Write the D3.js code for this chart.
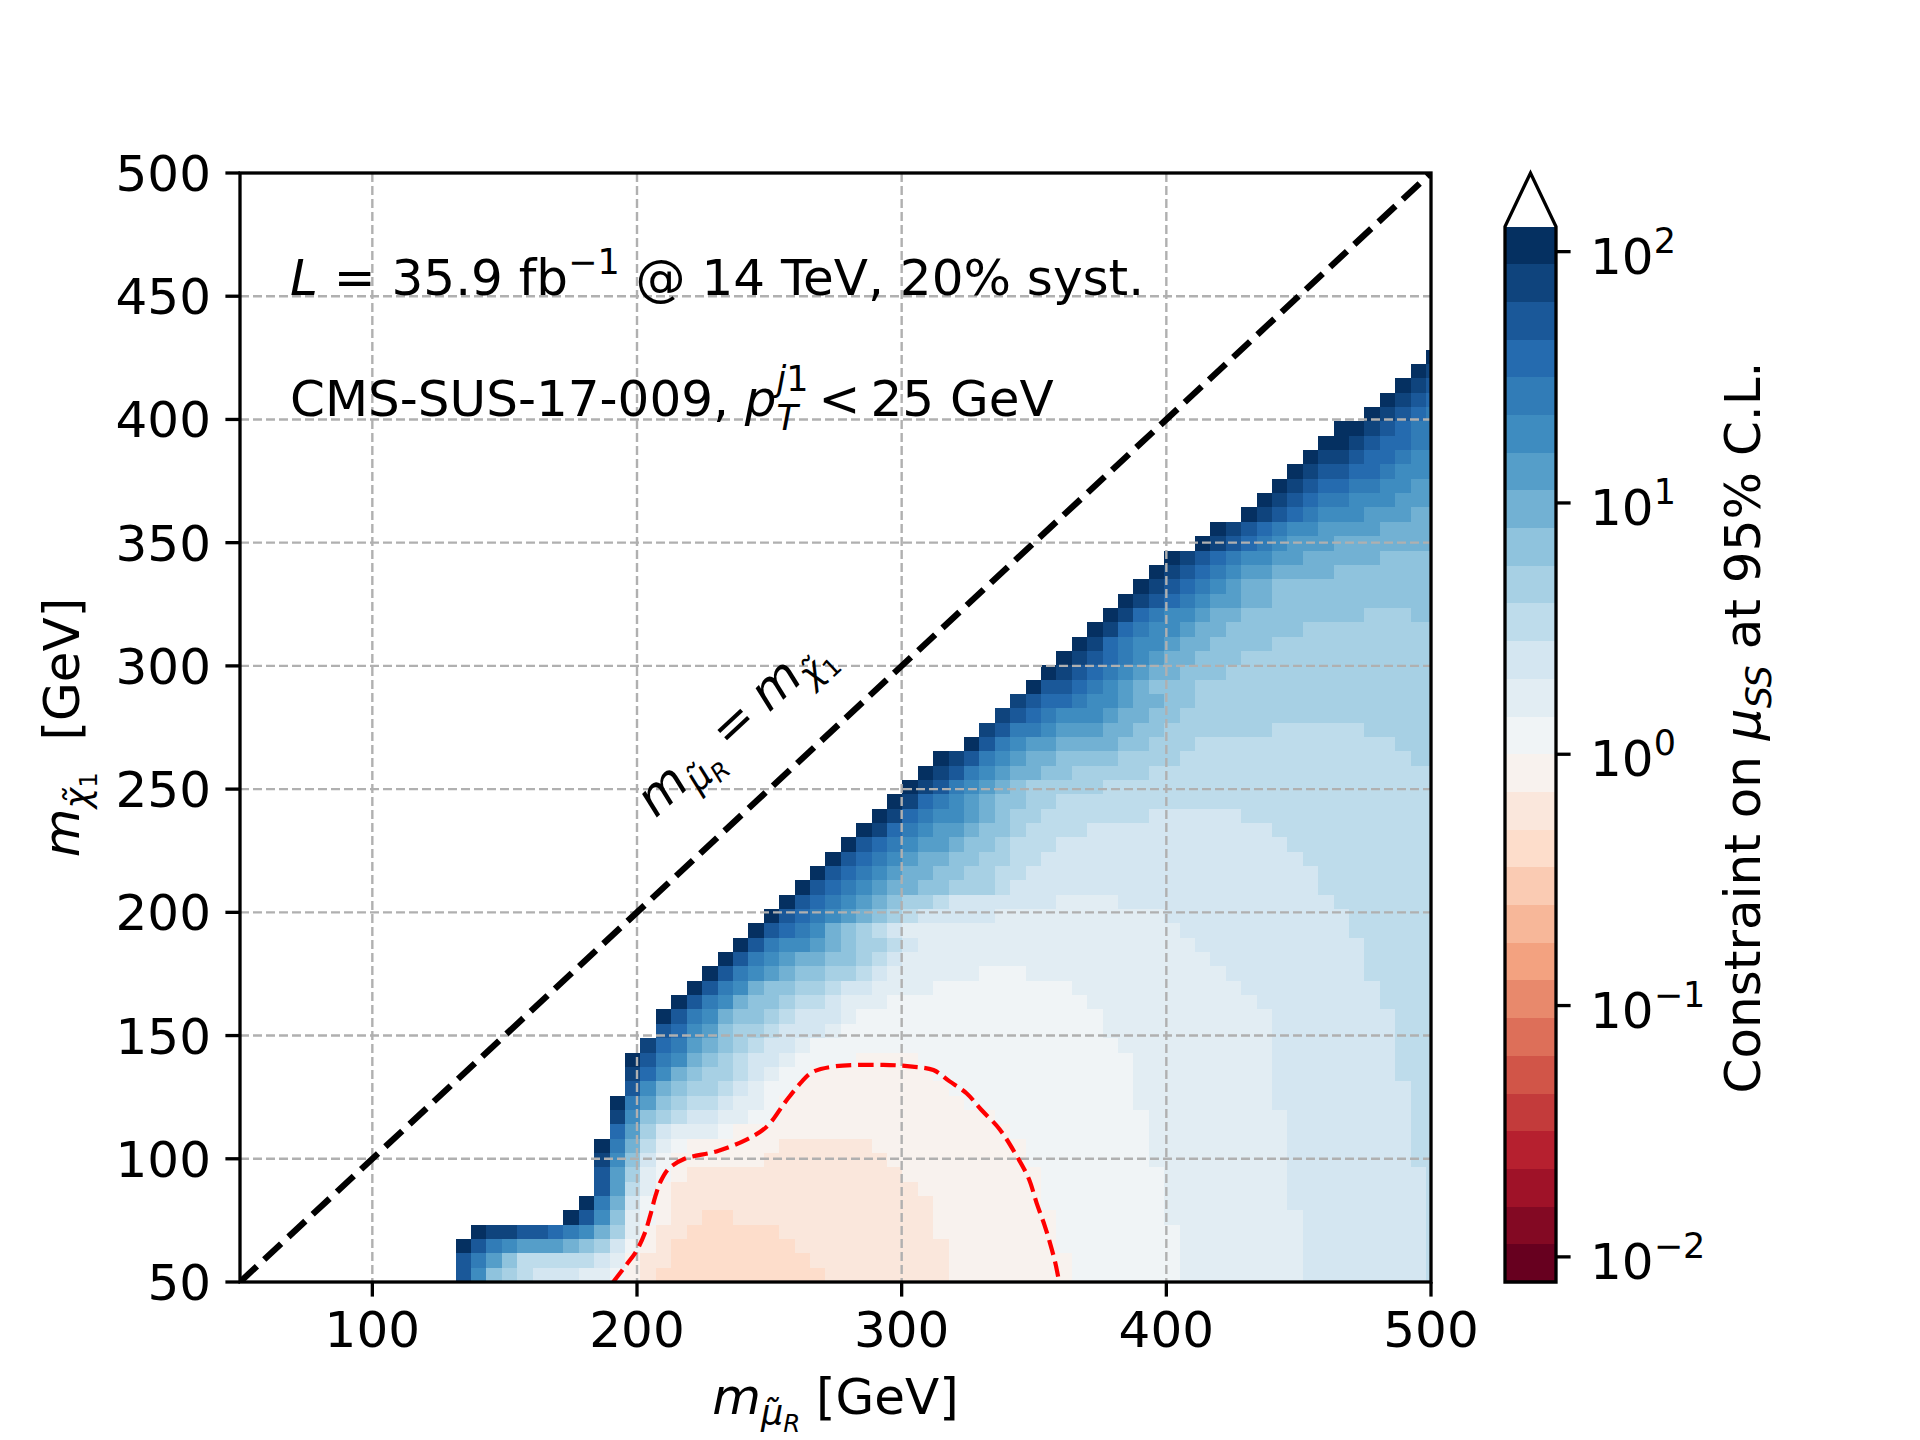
<!DOCTYPE html>
<html>
<head>
<meta charset="utf-8">
<script src="https://cdn.jsdelivr.net/npm/d3@7"></script>
<style>
  body { margin: 0; background: #fff; }
  text { font-family: "DejaVu Sans", sans-serif; fill: #000; }
</style>
</head>
<body>
<svg id="chart" width="1920" height="1440"></svg>
<script>
// Level codes: index 0..27 on the colour scale, one char per cell.
const levelCodes = "0123456789abcdefghijklmnopqr";
// Cell size in GeV (mass grid starts at 50 GeV in both directions)
const cellStep = 5.82;

// [row, first column, runs]  run = level char + optional repeat count
// cells outside the runs are above the colour range (drawn white)
const gridRows = [
  [0, 14, "p m j i h g3 f2 e d c b11 c8 d8 e7 f8 g8 h"],
  [1, 14, "p n l j h5 g f d c2 b9 c9 d8 e7 f8 g8 h"],
  [2, 14, "r p n m l3 k j i g e d c b8 c10 d7 e8 f8 g8 h"],
  [3, 15, "r q2 p2 o n m k i f d c2 b6 c10 d8 e8 f8 g8 h"],
  [4, 21, "r p m j f e d c2 b2 c13 d8 e7 f9 g8 h"],
  [5, 22, "r n k g e d c17 d7 e8 f8 g9 h"],
  [6, 23, "p l h f d c16 d8 e8 f8 g9 h"],
  [7, 23, "p l i f e d c14 d9 e8 f8 g9 h"],
  [8, 23, "q m j g e d6 c8 d9 e8 f9 g8 h2"],
  [9, 23, "r n k h f e d6 c6 d10 e8 f9 g8 h2"],
  [10, 24, "o l i g f3 e d18 e9 f9 g8 h2"],
  [11, 24, "q m j i h g2 f2 e2 d14 e10 f9 g8 h2"],
  [12, 24, "r n l j i h2 g f2 e d12 e11 f9 g9 h2"],
  [13, 25, "p m k j i2 h g f e2 d10 e12 f9 g9 h2"],
  [14, 25, "q o m k j i2 h g f e2 d8 e13 f9 g8 h3"],
  [15, 25, "r p n m k j i h g2 f e4 d4 e14 f9 g8 h3"],
  [16, 26, "q o n l k j i h g2 f e20 f10 g8 h3"],
  [17, 27, "p o m l j i2 h g3 f e17 f11 g8 h3"],
  [18, 27, "r p n m k j2 i h g3 f e16 f11 g8 h3"],
  [19, 28, "r p n m k j2 i h2 g f3 e13 f11 g8 h4"],
  [20, 29, "r p n m k j2 i2 h g2 f4 e9 f11 g9 h4"],
  [21, 30, "r p n m l k j2 i2 h g f6 e3 f13 g9 h5"],
  [22, 31, "r p n m l k2 j2 i h g f20 g10 h5"],
  [23, 32, "r p n m2 l k j i2 h g f18 g11 h5"],
  [24, 33, "r p o n m k j i h g f18 g11 h6"],
  [25, 34, "r p o n m l k j i h g5 f11 g12 h6"],
  [26, 35, "r p o n m l k j i2 h g7 f4 g14 h7"],
  [27, 36, "r p o n m l k2 j2 i3 h g20 h8"],
  [28, 37, "r p o n m l k2 j2 i2 h2 g19 h8"],
  [29, 38, "r p o n m l k2 j2 i2 h2 g17 h9"],
  [30, 39, "r p o n m l2 k j2 i h3 g15 h10"],
  [31, 40, "r q o n m l2 k j2 i h4 g12 h11"],
  [32, 41, "r q o n m2 l k j i2 h7 g6 h13"],
  [33, 42, "r q o n m l k j2 i2 h25"],
  [34, 43, "r q p n m l k j i5 h22"],
  [35, 44, "r q p n m l k2 j2 i5 h19"],
  [36, 45, "r q p n m l k2 j4 i4 h15 i2"],
  [37, 47, "r p n m l2 k4 j2 i3 h13 i3"],
  [38, 48, "q p n2 m l3 k2 j2 i7 h6 i5"],
  [39, 49, "q p o n m3 l k2 j2 i17"],
  [40, 50, "q p o2 n m2 l k2 j2 i16"],
  [41, 51, "r p2 o n m l k j3 i16"],
  [42, 52, "r q p o n m l k2 j3 i14"],
  [43, 53, "r q p o n m l k2 j3 i13"],
  [44, 54, "r q o n m2 l k2 j4 i11"],
  [45, 55, "r q o n m2 l k2 j5 i9"],
  [46, 56, "r q o n m2 l k2 j8 i3 j2"],
  [47, 57, "r q p o n m l2 k2 j11"],
  [48, 58, "r q p o n m l k2 j11"],
  [49, 59, "r q p o n m l2 k4 j7"],
  [50, 60, "r q p o n m2 l2 k5 j4"],
  [51, 62, "r q p o n m l3 k7"],
  [52, 63, "r q p o n m2 l4 k4"],
  [53, 65, "r q p o n m3 l3 k2"],
  [54, 66, "r q p o n2 m3 l3"],
  [55, 67, "r q p o2 n2 m2 l2"],
  [56, 68, "r q p2 o2 n m3"],
  [57, 69, "r q2 p o2 n m2"],
  [58, 70, "r2 q p o2 n2"],
  [59, 71, "r2 q p o n2"],
  [60, 73, "r q p o n"],
  [61, 74, "r q p o"],
  [62, 75, "r q p"],
  [63, 76, "r q"],
  [64, 77, "r"]
];

// mu_SS = 1 contour (GeV, GeV)
const contourPts = [[191,50],[196,57],[200,63],[203,70],[205,77],[207,85],[209,91],[212,96],
  [218,100],[230,103],[241,107.6],[249,113],[256,123],[262,131],[266,135],[274,137.4],
  [293,138.1],[304,137.4],[312,136],[318,131.5],[324.5,126.6],[330,120],[337,112],
  [343,102],[348,92],[351,82],[354,73],[356,66],[358,58],[359.5,50]];

// colour bar bin edges, log10(mu)
const cbBounds = [-2.1,-1.95,-1.8,-1.65,-1.5,-1.35,-1.2,-1.05,-0.9,-0.75,-0.6,-0.45,-0.3,-0.15,
  0,0.15,0.3,0.45,0.6,0.75,0.9,1.05,1.2,1.35,1.5,1.65,1.8,1.95,2.1];
const cbTicks = [-2, -1, 0, 1, 2];
const xTicks = [100, 200, 300, 400, 500];
const yTicks = [50, 100, 150, 200, 250, 300, 350, 400, 450, 500];
const xGrid = [100, 200, 300, 400];
const yGrid = [100, 150, 200, 250, 300, 350, 400, 450];

const rdbuStops = ["#67001f","#b2182b","#d6604d","#f4a582","#fddbc7","#f7f7f7",
  "#d1e5f0","#92c5de","#4393c3","#2166ac","#053061"];
const rdbu = d3.scaleLinear().domain(d3.range(11).map(i => i / 10)).range(rdbuStops)
  .interpolate(d3.interpolateRgb);
const levelColor = lv => rdbu(lv / 27);

const svg = d3.select("#chart");
svg.append("rect").attr("width", 1920).attr("height", 1440).attr("fill", "#fff");

const plot = {left: 240, right: 1431, top: 173, bottom: 1282};
const xS = d3.scaleLinear().domain([50, 500]).range([plot.left, plot.right]);
const yS = d3.scaleLinear().domain([50, 500]).range([plot.bottom, plot.top]);
const FS = 50;

svg.append("clipPath").attr("id", "clip").append("rect")
  .attr("x", plot.left).attr("y", plot.top)
  .attr("width", plot.right - plot.left).attr("height", plot.bottom - plot.top);

// --- heat map cells
const cells = [];
gridRows.forEach(([row, start, runs]) => {
  let col = start;
  runs.split(" ").forEach(tok => {
    const lv = levelCodes.indexOf(tok[0]);
    const n = tok.length > 1 ? +tok.slice(1) : 1;
    for (let k = 0; k < n; k++) cells.push({row, col: col++, lv});
  });
});

const gCells = svg.append("g").attr("clip-path", "url(#clip)");
gCells.selectAll("rect").data(cells).enter().append("rect")
  .attr("x", d => Math.round(xS(50 + d.col * cellStep)))
  .attr("width", d => Math.round(xS(Math.min(500, 50 + (d.col + 1) * cellStep))) - Math.round(xS(50 + d.col * cellStep)))
  .attr("y", d => Math.round(yS(Math.min(500, 50 + (d.row + 1) * cellStep))))
  .attr("height", d => Math.round(yS(50 + d.row * cellStep)) - Math.round(yS(Math.min(500, 50 + (d.row + 1) * cellStep))))
  .attr("fill", d => levelColor(d.lv));

// --- grid
const gGrid = svg.append("g").attr("stroke", "#b0b0b0").attr("stroke-width", 2.4)
  .attr("stroke-dasharray", "9,4");
gGrid.selectAll(".vg").data(xGrid).enter().append("line")
  .attr("x1", d => xS(d)).attr("x2", d => xS(d)).attr("y1", plot.top).attr("y2", plot.bottom);
gGrid.selectAll(".hg").data(yGrid).enter().append("line")
  .attr("y1", d => yS(d)).attr("y2", d => yS(d)).attr("x1", plot.left).attr("x2", plot.right);

// --- diagonal m_mu = m_chi
const gLines = svg.append("g").attr("clip-path", "url(#clip)");
gLines.append("line")
  .attr("x1", xS(50)).attr("y1", yS(50)).attr("x2", xS(500)).attr("y2", yS(500))
  .attr("stroke", "#000").attr("stroke-width", 6.25).attr("stroke-dasharray", "23.1,10");

// --- contour mu = 1
gLines.append("path").datum(contourPts)
  .attr("d", d3.line().x(d => xS(d[0])).y(d => yS(d[1])).curve(d3.curveCatmullRom))
  .attr("fill", "none").attr("stroke", "#ff0000").attr("stroke-width", 4.2)
  .attr("stroke-dasharray", "15.4,6.7");

// --- helper for simple mathtext (sub/superscripts)
function mathText(parent, pieces, size) {
  const g = parent.append("g");
  let x = 0, stackEnd = 0;
  pieces.forEach(p => {
    const t = g.append("text")
      .attr("x", x).attr("y", (p.dy || 0) * size)
      .attr("font-size", size * (p.s || 1))
      .attr("font-style", p.it ? "italic" : null)
      .style("white-space", "pre")
      .text(p.t);
    const w = t.node().getComputedTextLength();
    if (p.stack === "start") stackEnd = x + w;
    else if (p.stack === "end") x = Math.max(x + w, stackEnd);
    else x += w;
  });
  return {g, width: x};
}

// --- spines and ticks
svg.append("rect").attr("x", plot.left).attr("y", plot.top)
  .attr("width", plot.right - plot.left).attr("height", plot.bottom - plot.top)
  .attr("fill", "none").attr("stroke", "#000").attr("stroke-width", 3.3);

const gAx = svg.append("g");
xTicks.forEach(v => {
  gAx.append("line").attr("x1", xS(v)).attr("x2", xS(v)).attr("y1", plot.bottom).attr("y2", plot.bottom + 14.6)
    .attr("stroke", "#000").attr("stroke-width", 3.3);
  gAx.append("text").attr("x", xS(v)).attr("y", 1347).attr("text-anchor", "middle")
    .attr("font-size", FS).text(v);
});
yTicks.forEach(v => {
  gAx.append("line").attr("x1", plot.left - 14.6).attr("x2", plot.left).attr("y1", yS(v)).attr("y2", yS(v))
    .attr("stroke", "#000").attr("stroke-width", 3.3);
  gAx.append("text").attr("x", 211).attr("y", yS(v) + 18).attr("text-anchor", "end")
    .attr("font-size", FS).text(v);
});

// axis labels
const sub1 = 0.22, sub2 = 0.36;
const xl = mathText(svg, [{t: "m", it: 1}, {t: "\u03bc\u0303", it: 1, s: 0.7, dy: sub1},
  {t: "R", it: 1, s: 0.49, dy: sub2}, {t: " [GeV]"}], FS);
xl.g.attr("transform", `translate(${(plot.left + plot.right) / 2 - xl.width / 2},1414)`);

const yl = mathText(svg, [{t: "m", it: 1}, {t: "\u03c7\u0303", it: 1, s: 0.7, dy: sub1},
  {t: "1", s: 0.49, dy: sub2}, {t: "  [GeV]"}], FS);
yl.g.attr("transform", `translate(79,${(plot.top + plot.bottom) / 2}) rotate(-90) translate(${-yl.width / 2},0)`);

// --- annotations
const t1 = mathText(svg, [{t: "L", it: 1}, {t: " = 35.9 fb"}, {t: "\u22121", s: 0.7, dy: -0.42},
  {t: " @ 14 TeV, 20% syst."}], FS);
t1.g.attr("transform", "translate(290,295)");

// p_T^{j1}: subscript and superscript share the same x
const t2 = mathText(svg, [{t: "CMS-SUS-17-009, "}, {t: "p", it: 1},
  {t: "T", it: 1, s: 0.7, dy: 0.28, stack: "start"}, {t: "j", it: 1, s: 0.7, dy: -0.5},
  {t: "1", s: 0.7, dy: -0.5, stack: "end"}, {t: "\u2009<\u200925 GeV"}], FS);
t2.g.attr("transform", "translate(290,416)");

const ang = Math.atan2(yS(500) - yS(50), xS(500) - xS(50)) * 180 / Math.PI;
const dl = mathText(svg, [{t: "m", it: 1}, {t: "\u03bc\u0303", it: 1, s: 0.7, dy: sub1},
  {t: "R", it: 1, s: 0.49, dy: sub2}, {t: "\u2005=\u2005"}, {t: "m", it: 1},
  {t: "\u03c7\u0303", it: 1, s: 0.7, dy: sub1}, {t: "1", s: 0.49, dy: sub2}], FS);
dl.g.attr("transform", `translate(${xS(207)},${yS(238)}) rotate(${ang})`);

// --- colour bar
const cb = {x0: 1505, x1: 1556};
const cbS = d3.scaleLinear().domain([-2.1, 2.1]).range([1282, 226.5]);
const gCb = svg.append("g");
const bins = d3.pairs(cbBounds).map((p, i) => ({lo: p[0], hi: p[1], lv: i}));
gCb.selectAll("rect").data(bins).enter().append("rect")
  .attr("x", cb.x0).attr("width", cb.x1 - cb.x0)
  .attr("y", d => Math.round(cbS(d.hi))).attr("height", d => Math.round(cbS(d.lo)) - Math.round(cbS(d.hi)))
  .attr("fill", d => levelColor(d.lv));
const triTop = plot.top;
gCb.append("path")
  .attr("d", `M${cb.x0},${cbS(2.1)} L${(cb.x0 + cb.x1) / 2},${triTop} L${cb.x1},${cbS(2.1)} Z`)
  .attr("fill", "#fff");
gCb.append("path")
  .attr("d", `M${cb.x0},${cbS(-2.1)} L${cb.x0},${cbS(2.1)} L${(cb.x0 + cb.x1) / 2},${triTop} L${cb.x1},${cbS(2.1)} L${cb.x1},${cbS(-2.1)} Z`)
  .attr("fill", "none").attr("stroke", "#000").attr("stroke-width", 3.3);
cbTicks.forEach(v => {
  gCb.append("line").attr("x1", cb.x1).attr("x2", cb.x1 + 14.6).attr("y1", cbS(v)).attr("y2", cbS(v))
    .attr("stroke", "#000").attr("stroke-width", 3.3);
  const lab = mathText(gCb, [{t: "10"}, {t: v < 0 ? "\u2212" + (-v) : String(v), s: 0.7, dy: -0.42}], FS);
  lab.g.attr("transform", `translate(1590,${cbS(v) + 22})`);
});
const cl = mathText(svg, [{t: "Constraint on "}, {t: "\u03bc", it: 1}, {t: "SS", it: 1, s: 0.7, dy: sub1},
  {t: " at 95% C.L."}], FS);
cl.g.attr("transform", `translate(1760,${(plot.top + plot.bottom) / 2}) rotate(-90) translate(${-cl.width / 2},0)`);
</script>
</body>
</html>
